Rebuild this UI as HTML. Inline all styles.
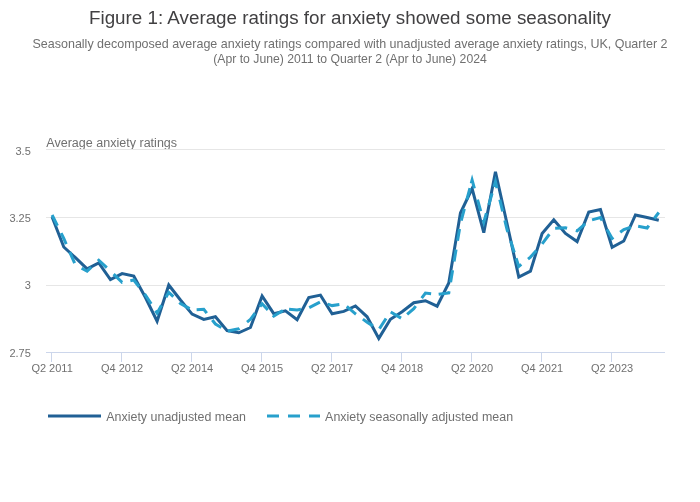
<!DOCTYPE html>
<html><head><meta charset="utf-8">
<style>
html,body{margin:0;padding:0;background:#fff;}
body{width:700px;height:502px;overflow:hidden;}
svg{display:block;font-family:"Liberation Sans",sans-serif;will-change:transform;}
</style></head><body>
<svg width="700" height="502" viewBox="0 0 700 502">
<rect width="700" height="502" fill="#fff"/>
<text x="350" y="24" text-anchor="middle" font-size="17.5" fill="#414042" textLength="522" lengthAdjust="spacingAndGlyphs">Figure 1: Average ratings for anxiety showed some seasonality</text>
<text x="350" y="48.2" text-anchor="middle" font-size="13" fill="#707070" textLength="635" lengthAdjust="spacingAndGlyphs">Seasonally decomposed average anxiety ratings compared with unadjusted average anxiety ratings, UK, Quarter 2</text>
<text x="350" y="63" text-anchor="middle" font-size="13" fill="#707070" textLength="273.6" lengthAdjust="spacingAndGlyphs">(Apr to June) 2011 to Quarter 2 (Apr to June) 2024</text>
<text x="46.3" y="147" font-size="12" fill="#707070" textLength="130.8" lengthAdjust="spacingAndGlyphs">Average anxiety ratings</text>
<g stroke="#e6e6e6" stroke-width="1">
<line x1="46" y1="149.5" x2="665" y2="149.5"/>
<line x1="46" y1="217.5" x2="665" y2="217.5"/>
<line x1="46" y1="285.5" x2="665" y2="285.5"/>
</g>
<line x1="46" y1="352.5" x2="665" y2="352.5" stroke="#ccd6eb" stroke-width="1"/>
<g stroke="#ccd6eb" stroke-width="1">
<line x1="51.5" y1="352" x2="51.5" y2="362"/>
<line x1="121.5" y1="352" x2="121.5" y2="362"/>
<line x1="191.5" y1="352" x2="191.5" y2="362"/>
<line x1="261.5" y1="352" x2="261.5" y2="362"/>
<line x1="331.5" y1="352" x2="331.5" y2="362"/>
<line x1="401.5" y1="352" x2="401.5" y2="362"/>
<line x1="471.5" y1="352" x2="471.5" y2="362"/>
<line x1="541.5" y1="352" x2="541.5" y2="362"/>
<line x1="611.5" y1="352" x2="611.5" y2="362"/>
</g>
<g font-size="11" fill="#707070" text-anchor="end">
<text x="30.8" y="155">3.5</text>
<text x="30.8" y="222.2">3.25</text>
<text x="30.8" y="289.4">3</text>
<text x="30.8" y="356.6">2.75</text>
</g>
<g font-size="11" fill="#707070" text-anchor="middle">
<text x="52.1" y="371.7">Q2 2011</text>
<text x="122.1" y="371.7">Q4 2012</text>
<text x="192.1" y="371.7">Q2 2014</text>
<text x="262.1" y="371.7">Q4 2015</text>
<text x="332.1" y="371.7">Q2 2017</text>
<text x="402.1" y="371.7">Q4 2018</text>
<text x="472.1" y="371.7">Q2 2020</text>
<text x="542.1" y="371.7">Q4 2021</text>
<text x="612.1" y="371.7">Q2 2023</text>
</g>
<path d="M52.10 217.0 L63.77 247.0 L75.43 257.7 L87.10 268.9 L98.77 263.0 L110.44 279.6 L122.10 273.6 L133.77 276.0 L145.44 297.5 L157.10 321.2 L168.77 285.0 L180.44 300.0 L192.10 314.1 L203.77 319.4 L215.44 316.7 L227.10 330.6 L238.77 332.8 L250.44 327.5 L262.11 296.0 L273.77 313.7 L285.44 310.9 L297.11 319.7 L308.77 297.6 L320.44 295.1 L332.11 313.8 L343.78 311.4 L355.44 306.0 L367.11 316.8 L378.78 338.4 L390.44 319.3 L402.11 311.8 L413.78 302.7 L425.44 300.7 L437.11 306.2 L448.78 283.0 L460.44 213.0 L472.11 188.5 L483.78 232.6 L495.45 171.8 L507.11 224.0 L518.78 277.0 L530.45 271.1 L542.11 233.5 L553.78 219.7 L565.45 233.5 L577.12 241.6 L588.78 212.0 L600.45 209.5 L612.12 247.2 L623.78 241.0 L635.45 215.0 L647.12 217.5 L658.78 220.3" fill="none" stroke="#206095" stroke-width="3" stroke-linejoin="miter" stroke-linecap="butt"/>
<path d="M52.10 215.0 L63.77 238.5 L75.43 265.0 L87.10 271.2 L98.77 260.4 L110.44 270.9 L122.10 282.4 L133.77 280.0 L145.44 295.0 L157.10 313.1 L168.77 292.3 L180.44 303.5 L192.10 309.9 L203.77 309.3 L215.44 324.0 L227.10 331.1 L238.77 328.8 L250.44 319.3 L262.11 303.8 L273.77 316.1 L285.44 308.9 L297.11 310.0 L308.77 307.8 L320.44 301.8 L332.11 305.6 L343.78 303.9 L355.44 313.8 L367.11 322.2 L378.78 329.7 L390.44 311.8 L402.11 318.8 L413.78 308.7 L425.44 293.1 L437.11 294.5 L448.78 293.0 L460.44 223.6 L472.11 180.0 L483.78 222.2 L495.45 181.7 L507.11 229.8 L518.78 266.5 L530.45 257.1 L542.11 243.9 L553.78 228.3 L565.45 227.8 L577.12 230.9 L588.78 220.8 L600.45 217.6 L612.12 238.4 L623.78 229.5 L635.45 225.8 L647.12 228.0 L658.78 212.5" fill="none" stroke="#27a0cc" stroke-width="3" stroke-dasharray="12.0 8.3 12.0 8.9 12.0 9.0 12.0 8.9 12.0 9.4 12.0 8.3 12.0 9.1 12.0 8.0 12.0 9.1 12.0 8.4 12.0 7.3 12.0 8.8 12.0 7.5 12.0 9.8 12.0 8.2 12.0 7.3 12.0 6.6 12.0 8.5 12.0 8.2 12.0 8.4 12.0 8.5 12.0 8.4 12.0 8.4 12.0 7.9 12.0 10.0 12.0 7.6 12.0 9.2 12.0 9.0 12.0 8.9 12.0 8.6 12.0 9.6 12.0 5.0 12.0 11.7 12.0 8.9 12.0 8.6 12.0 6.7 12.0 11.9 12.0 9.3 12.0 9.5 12.0 6.0 12.0 8.6 12.0 8.8 12.0 8.8 12.0 9.0 12.0 8.2 12.0 10.2 12.0 8.5 12.0 7.5 12.0 9.0 12.0 9.0 12.0 9.0 12.0 9.0" stroke-linejoin="miter" stroke-linecap="butt"/>
<line x1="48" y1="416" x2="101" y2="416" stroke="#206095" stroke-width="3"/>
<text x="106.3" y="421" font-size="12" fill="#707070" textLength="139.7" lengthAdjust="spacingAndGlyphs">Anxiety unadjusted mean</text>
<line x1="267" y1="416" x2="320" y2="416" stroke="#27a0cc" stroke-width="3" stroke-dasharray="12 9"/>
<text x="325.1" y="421" font-size="12" fill="#707070" textLength="188" lengthAdjust="spacingAndGlyphs">Anxiety seasonally adjusted mean</text>
</svg>
</body></html>
